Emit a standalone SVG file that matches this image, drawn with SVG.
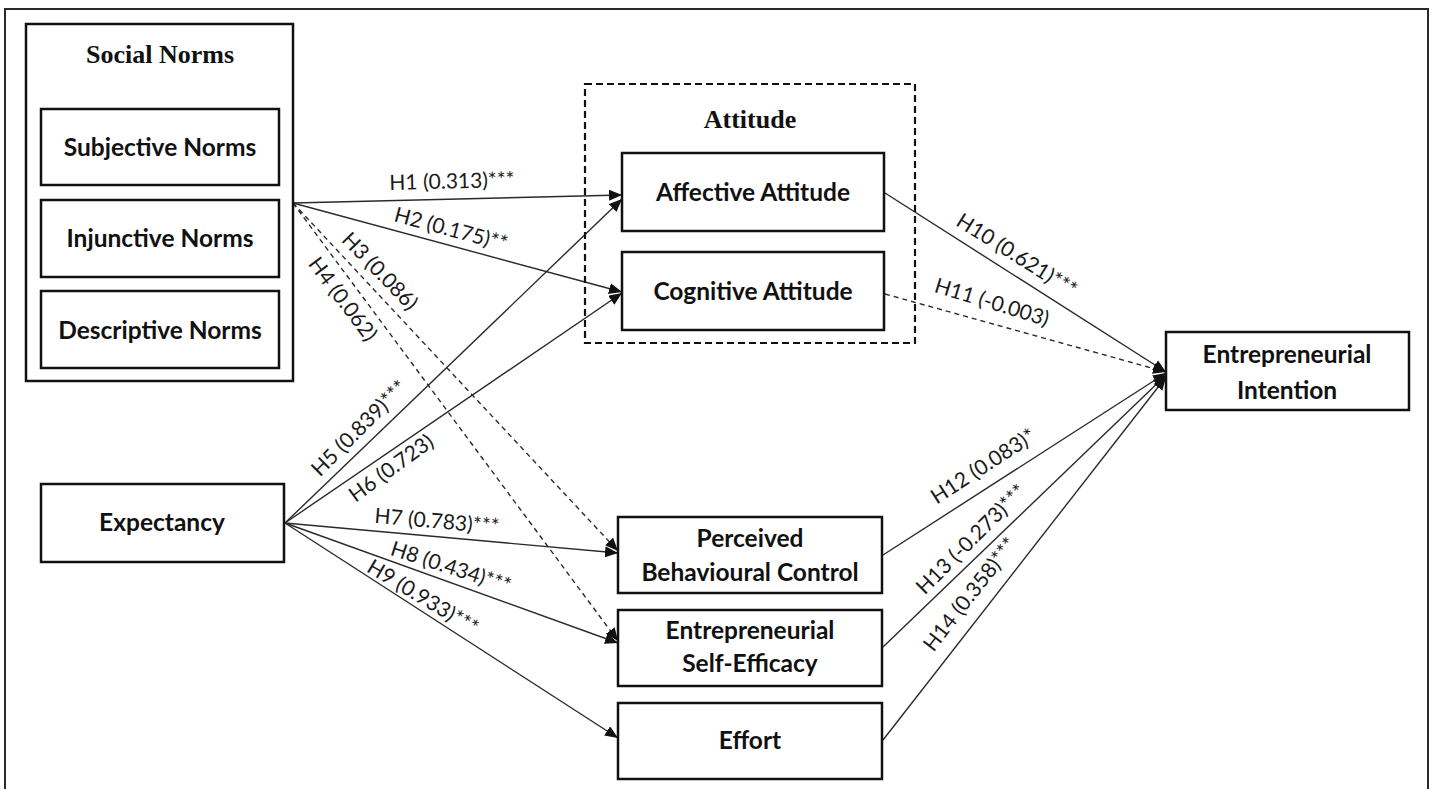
<svg xmlns="http://www.w3.org/2000/svg" width="1434" height="789" viewBox="0 0 1434 789">
  <style>
    .frame { fill: none; stroke: #2a2a2a; stroke-width: 2; }
    .box { fill: #fff; stroke: #111; stroke-width: 2.5; }
    .group { fill: #fff; stroke: #111; stroke-width: 2.5; }
    .dgroup { fill: none; stroke: #111; stroke-width: 2.2; stroke-dasharray: 7 4; }
    .title { font-family: "Liberation Serif", "Times New Roman", serif; font-weight: bold; font-size: 26px; fill: #111; text-anchor: middle; }
    .node { font-family: Lato, "Open Sans", "Liberation Sans", sans-serif; font-weight: bold; font-size: 24.5px; fill: #111; text-anchor: middle; }
    .edge { fill: none; stroke: #2a2a2a; stroke-width: 1.4; }
    .dash { stroke-dasharray: 5 4; }
    .lbl { font-family: Lato, "Open Sans", "Liberation Sans", sans-serif; font-size: 21px; fill: #1a1a1a; text-anchor: middle; }
  </style>
  <defs>
    <marker id="arrow" markerUnits="userSpaceOnUse" markerWidth="14" markerHeight="12" refX="13" refY="5.5" orient="auto">
      <path d="M0,0 L13,5.5 L0,11 z" fill="#111"/>
    </marker>
  </defs>

  <rect width="1434" height="789" fill="#fff"/>
  <rect class="frame" x="5" y="9" width="1423" height="800"/>

  <!-- connectors -->
  <g id="connectors">
    <line class="edge" x1="293" y1="203" x2="622" y2="195" marker-end="url(#arrow)"/>
    <line class="edge" x1="293" y1="203" x2="622" y2="292" marker-end="url(#arrow)"/>
    <line class="edge dash" x1="293" y1="203" x2="618" y2="551" marker-end="url(#arrow)"/>
    <line class="edge dash" x1="293" y1="203" x2="618" y2="641" marker-end="url(#arrow)"/>
    <line class="edge" x1="285" y1="523" x2="622" y2="199" marker-end="url(#arrow)"/>
    <line class="edge" x1="285" y1="523" x2="622" y2="293" marker-end="url(#arrow)"/>
    <line class="edge" x1="285" y1="523" x2="618" y2="553" marker-end="url(#arrow)"/>
    <line class="edge" x1="285" y1="523" x2="618" y2="643" marker-end="url(#arrow)"/>
    <line class="edge" x1="285" y1="523" x2="618" y2="738" marker-end="url(#arrow)"/>
    <line class="edge" x1="885" y1="193" x2="1166" y2="372" marker-end="url(#arrow)"/>
    <line class="edge dash" x1="885" y1="294" x2="1166" y2="372" marker-end="url(#arrow)"/>
    <line class="edge" x1="883" y1="555" x2="1166" y2="373" marker-end="url(#arrow)"/>
    <line class="edge" x1="883" y1="647" x2="1166" y2="375" marker-end="url(#arrow)"/>
    <line class="edge" x1="883" y1="740" x2="1166" y2="377" marker-end="url(#arrow)"/>

    <text class="lbl" transform="translate(452,181) rotate(-1.4)" dy="0.35em">H1 (0.313)***</text>
    <text class="lbl" transform="translate(451,229) rotate(15)" dy="0.35em">H2 (0.175)**</text>
    <text class="lbl" transform="translate(380,271) rotate(46)" dy="0.35em">H3 (0.086)</text>
    <text class="lbl" transform="translate(343,299) rotate(53)" dy="0.35em">H4 (0.062)</text>
    <text class="lbl" transform="translate(359,428) rotate(-45)" dy="0.35em">H5 (0.839)***</text>
    <text class="lbl" transform="translate(391,468) rotate(-36)" dy="0.35em">H6 (0.723)</text>
    <text class="lbl" transform="translate(437,521) rotate(5)" dy="0.35em">H7 (0.783)***</text>
    <text class="lbl" transform="translate(451,567) rotate(18)" dy="0.35em">H8 (0.434)***</text>
    <text class="lbl" transform="translate(423,597) rotate(31)" dy="0.35em">H9 (0.933)***</text>
    <text class="lbl" transform="translate(1017,255) rotate(32)" dy="0.35em">H10 (0.621)***</text>
    <text class="lbl" transform="translate(992,302) rotate(17)" dy="0.35em">H11 (-0.003)</text>
    <text class="lbl" transform="translate(983,466) rotate(-33)" dy="0.35em">H12 (0.083)*</text>
    <text class="lbl" transform="translate(971,539) rotate(-45)" dy="0.35em">H13 (-0.273)***</text>
    <text class="lbl" transform="translate(970,594) rotate(-52)" dy="0.35em">H14 (0.358)***</text>
  </g>

  <!-- Social Norms group -->
  <g id="social-norms">
    <rect class="group" x="26" y="24" width="267" height="357"/>
    <text class="title" x="160" y="63">Social Norms</text>
  </g>
  <g id="subjective-norms">
    <rect class="box" x="41" y="109" width="238" height="76"/>
    <text class="node" x="160" y="156">Subjective Norms</text>
  </g>
  <g id="injunctive-norms">
    <rect class="box" x="41" y="200" width="238" height="77"/>
    <text class="node" x="160" y="247">Injunctive Norms</text>
  </g>
  <g id="descriptive-norms">
    <rect class="box" x="41" y="291" width="238" height="77"/>
    <text class="node" x="160" y="339">Descriptive Norms</text>
  </g>

  <!-- Attitude group -->
  <g id="attitude">
    <rect class="dgroup" x="585" y="84" width="330" height="259"/>
    <text class="title" x="750" y="128">Attitude</text>
  </g>
  <g id="affective-attitude">
    <rect class="box" x="622" y="153" width="262" height="78"/>
    <text class="node" x="753" y="201">Affective Attitude</text>
  </g>
  <g id="cognitive-attitude">
    <rect class="box" x="622" y="252" width="262" height="78"/>
    <text class="node" x="753" y="300">Cognitive Attitude</text>
  </g>

  <g id="expectancy">
    <rect class="box" x="41" y="484" width="243" height="78"/>
    <text class="node" x="162" y="531">Expectancy</text>
  </g>

  <g id="perceived-behavioural-control">
    <rect class="box" x="618" y="517" width="264" height="76"/>
    <text class="node" x="750" y="547">Perceived</text>
    <text class="node" x="750" y="581">Behavioural Control</text>
  </g>
  <g id="entrepreneurial-self-efficacy">
    <rect class="box" x="618" y="610" width="264" height="76"/>
    <text class="node" x="750" y="639">Entrepreneurial</text>
    <text class="node" x="750" y="672">Self-Efficacy</text>
  </g>
  <g id="effort">
    <rect class="box" x="618" y="703" width="264" height="76"/>
    <text class="node" x="750" y="749">Effort</text>
  </g>

  <g id="entrepreneurial-intention">
    <rect class="box" x="1166" y="332" width="243" height="78"/>
    <text class="node" x="1287" y="363">Entrepreneurial</text>
    <text class="node" x="1287" y="399">Intention</text>
  </g>
</svg>
